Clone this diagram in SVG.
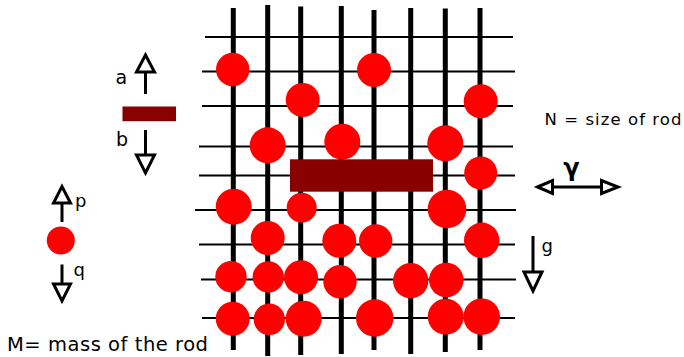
<svg xmlns="http://www.w3.org/2000/svg" width="684" height="357" viewBox="0 0 684 357">
  <style>
    .hline { stroke: #000; stroke-width: 2; }
    .rod { stroke: #000; stroke-width: 5; }
    .ball { fill: #ff0000; }
    .bar { fill: #880000; }
    .stem { stroke: #000; stroke-width: 3; fill: none; }
    .head { fill: #fff; stroke: #000; stroke-width: 3; stroke-linejoin: miter; }
    .lbl { font-family: "DejaVu Sans", "Liberation Sans", sans-serif; fill: #000; }
  </style>

  <!-- horizontal guide lines -->
  <g id="grid-lines">
    <line class="hline" x1="205" y1="37" x2="513" y2="37"/>
    <line class="hline" x1="202" y1="71.5" x2="515" y2="71.5"/>
    <line class="hline" x1="202" y1="106" x2="513" y2="106"/>
    <line class="hline" x1="199" y1="146.5" x2="513" y2="146.5"/>
    <line class="hline" x1="199" y1="175.5" x2="515" y2="175.5"/>
    <line class="hline" x1="195" y1="210" x2="516" y2="210"/>
    <line class="hline" x1="199" y1="244.5" x2="515" y2="244.5"/>
    <line class="hline" x1="201" y1="279.5" x2="516" y2="279.5"/>
    <line class="hline" x1="202" y1="318" x2="515" y2="318"/>
  </g>

  <!-- vertical rods -->
  <g id="rods">
    <line class="rod" x1="233.3" y1="8" x2="233.3" y2="350"/>
    <line class="rod" x1="267.7" y1="5" x2="267.7" y2="356"/>
    <line class="rod" x1="300.7" y1="6.5" x2="300.7" y2="355"/>
    <line class="rod" x1="341.3" y1="6" x2="341.3" y2="354"/>
    <line class="rod" x1="374" y1="10" x2="374" y2="350"/>
    <line class="rod" x1="410.7" y1="8" x2="410.7" y2="354"/>
    <line class="rod" x1="445.3" y1="8.5" x2="445.3" y2="352"/>
    <line class="rod" x1="480" y1="8" x2="480" y2="350"/>
  </g>

  <!-- particles -->
  <g id="particles">
    <circle class="ball" cx="232.7" cy="69.5" r="16.7"/>
    <circle class="ball" cx="374" cy="70" r="17"/>
    <circle class="ball" cx="302.7" cy="100" r="17"/>
    <circle class="ball" cx="480.7" cy="101.3" r="17"/>
    <circle class="ball" cx="267.7" cy="145.3" r="18"/>
    <circle class="ball" cx="342.3" cy="141.7" r="18"/>
    <circle class="ball" cx="445.3" cy="143.3" r="18"/>
    <circle class="ball" cx="480.7" cy="173" r="16.5"/>
    <circle class="ball" cx="233.7" cy="206.7" r="18"/>
    <circle class="ball" cx="301.7" cy="207.7" r="15"/>
    <circle class="ball" cx="447" cy="209" r="19.3"/>
    <circle class="ball" cx="267.7" cy="238" r="17"/>
    <circle class="ball" cx="339.3" cy="240.7" r="17"/>
    <circle class="ball" cx="375.7" cy="241" r="16.7"/>
    <circle class="ball" cx="481.7" cy="240.3" r="17.7"/>
    <circle class="ball" cx="231" cy="276.7" r="15.7"/>
    <circle class="ball" cx="268.3" cy="277" r="15.7"/>
    <circle class="ball" cx="301" cy="277.3" r="17"/>
    <circle class="ball" cx="340" cy="281.7" r="16.7"/>
    <circle class="ball" cx="410.7" cy="280.7" r="17.7"/>
    <circle class="ball" cx="446.3" cy="280" r="17.3"/>
    <circle class="ball" cx="232.7" cy="318.7" r="17"/>
    <circle class="ball" cx="269.3" cy="319.3" r="15.7"/>
    <circle class="ball" cx="303.7" cy="318.7" r="18"/>
    <circle class="ball" cx="374.7" cy="318" r="18.7"/>
    <circle class="ball" cx="445.7" cy="316.7" r="18"/>
    <circle class="ball" cx="481.7" cy="316.7" r="18.3"/>
  </g>

  <!-- the rod in the grid -->
  <g id="rod-body">
    <rect class="bar" x="290" y="159.3" width="143" height="32.4"/>
  </g>

  <!-- rod legend with a / b arrows -->
  <g id="rod-legend">
    <rect class="bar" x="122.5" y="106.5" width="53.5" height="14.7"/>
    <line class="stem" x1="145.5" y1="72" x2="145.5" y2="94"/>
    <polygon class="head" points="145.5,55 136.5,72 154.5,72"/>
    <text class="lbl" x="115.5" y="84" font-size="19">a</text>
    <line class="stem" x1="145.5" y1="130" x2="145.5" y2="155"/>
    <polygon class="head" points="136.5,155 154.5,155 145.5,173"/>
    <text class="lbl" x="116" y="146" font-size="19">b</text>
  </g>

  <!-- particle legend with p / q arrows -->
  <g id="particle-legend">
    <line class="stem" x1="62" y1="203" x2="62" y2="222"/>
    <polygon class="head" points="62,186.5 53.5,203 70.5,203"/>
    <text class="lbl" x="75" y="207" font-size="18">p</text>
    <circle class="ball" cx="60.8" cy="240.5" r="14"/>
    <line class="stem" x1="62" y1="264.5" x2="62" y2="284"/>
    <polygon class="head" points="53.5,284 70.5,284 62,301"/>
    <text class="lbl" x="73.5" y="276" font-size="18">q</text>
  </g>

  <!-- gamma: lateral arrow -->
  <g id="gamma">
    <line class="stem" x1="552" y1="187" x2="602" y2="187"/>
    <polygon class="head" points="537.5,187 552.5,180.5 552.5,193.5"/>
    <polygon class="head" points="601.5,180.5 601.5,193.5 618,187"/>
    <text class="lbl" x="571.5" y="176" font-size="24" font-weight="bold" text-anchor="middle">γ</text>
  </g>

  <!-- gravity arrow -->
  <g id="gravity">
    <line class="stem" x1="533" y1="236" x2="533" y2="272"/>
    <polygon class="head" points="524,272 542,272 533,291"/>
    <text class="lbl" x="541.5" y="252" font-size="18">g</text>
  </g>

  <!-- captions -->
  <g id="captions">
    <text class="lbl" x="7" y="351" font-size="19.5" textLength="201" lengthAdjust="spacing">M= mass of the rod</text>
    <text class="lbl" x="544.5" y="124.5" font-size="16.5" textLength="137" lengthAdjust="spacing">N = size of rod</text>
  </g>
</svg>
